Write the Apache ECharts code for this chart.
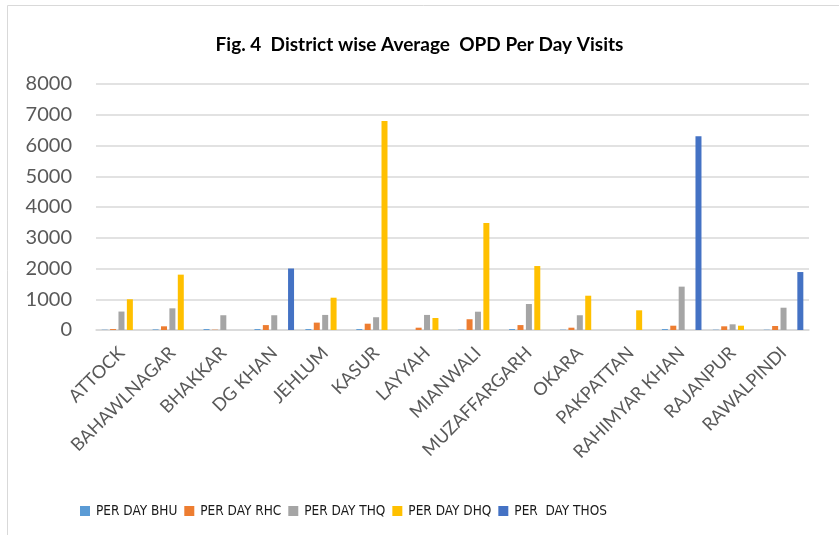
<!DOCTYPE html>
<html>
<head>
<meta charset="utf-8">
<script src="https://cdn.jsdelivr.net/npm/echarts@6/dist/echarts.min.js"></script>
<style>
    html, body { margin: 0; padding: 0; background: #fff; }
    #chart { width: 839px; height: 535px; }
</style>
</head>
<body>
<div id="chart"></div>
<script>
const districts = ["ATTOCK", "BAHAWLNAGAR", "BHAKKAR", "DG KHAN", "JEHLUM", "KASUR", "LAYYAH",
    "MIANWALI", "MUZAFFARGARH", "OKARA", "PAKPATTAN", "RAHIMYAR KHAN", "RAJANPUR", "RAWALPINDI"];
const perDayBhu = [10, 20, 30, 30, 30, 30, 0, 10, 30, 10, 0, 30, 10, 10];
const perDayRhc = [30, 120, 10, 160, 240, 205, 75, 350, 160, 75, 0, 140, 120, 130];
const perDayThq = [600, 705, 480, 480, 490, 415, 490, 595, 845, 480, 0, 1410, 185, 725];
const perDayDhq = [1000, 1800, 0, 0, 1050, 6800, 390, 3480, 2080, 1115, 640, 0, 140, 0];
const perDayThos = [0, 0, 0, 2000, 0, 0, 0, 0, 0, 0, 0, 6300, 0, 1885];
const seriesNames = ["PER DAY BHU", "PER DAY RHC", "PER DAY THQ", "PER DAY DHQ", "PER  DAY THOS"];
const seriesColors = ["#5B9BD5", "#ED7D31", "#A5A5A5", "#FFC000", "#4472C4"];

const font = "Lato, 'Open Sans', sans-serif";
const narrowFont = "'DejaVu Sans Condensed', Lato, sans-serif";
const chart = echarts.init(document.getElementById('chart'));

const allValues = [perDayBhu, perDayRhc, perDayThq, perDayDhq, perDayThos];

chart.setOption({
    animation: false,
    graphic: [{
        type: 'rect',
        shape: { x: 7.5, y: 5.5, width: 900, height: 560 },
        style: { fill: 'none', stroke: '#d9d9d9', lineWidth: 1 }
    }],
    title: {
        text: "Fig. 4  District wise Average  OPD Per Day Visits",
        left: 'center',
        top: 30,
        textStyle: { fontFamily: font, fontWeight: 'bold', fontSize: 19, color: '#000' }
    },
    legend: {
        left: 75,
        top: 499,
        itemWidth: 10,
        itemHeight: 10,
        itemGap: 7,
        icon: 'rect',
        textStyle: { fontFamily: narrowFont, fontSize: 13.5, color: '#1a1a1a', padding: [0, 0, 0, 1] },
        data: seriesNames
    },
    grid: { left: 96, right: 30, top: 84, bottom: 205 },
    xAxis: {
        type: 'category',
        data: districts,
        axisLine: { lineStyle: { color: '#d9d9d9', width: 1.5 } },
        axisTick: { show: false },
        axisLabel: {
            rotate: 45,
            interval: 0,
            margin: 20,
            fontFamily: font,
            fontSize: 18,
            color: '#595959'
        }
    },
    yAxis: {
        type: 'value',
        min: 0,
        max: 8000,
        interval: 1000,
        axisLine: { show: false },
        axisTick: { show: false },
        splitLine: { lineStyle: { color: '#d9d9d9', width: 1.5 } },
        axisLabel: {
            fontFamily: font,
            fontSize: 20,
            color: '#595959',
            margin: 24,
            formatter: v => String(v)
        }
    },
    series: seriesNames.map((name, i) => ({
        name: name,
        type: 'bar',
        data: allValues[i],
        barWidth: 6,
        barGap: '40%',
        itemStyle: { color: seriesColors[i] }
    }))
});
</script>
</body>
</html>
